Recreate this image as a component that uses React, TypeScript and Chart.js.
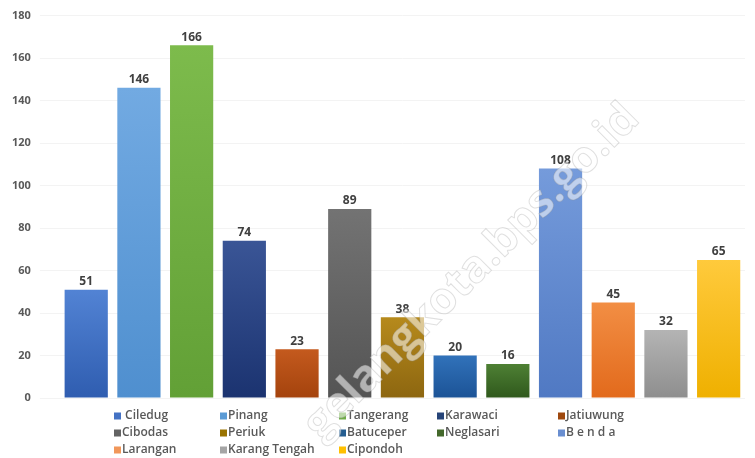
import React, { useEffect, useRef } from "react";
import { Chart, registerables } from "chart.js";

Chart.register(...registerables);

const categories = [
  " Ciledug", "Pinang", "Tangerang", "Karawaci", "Jatiuwung",
  "Cibodas", "Periuk", "Batuceper", "Neglasari", "B e n d a",
  "Larangan", "Karang Tengah", "Cipondoh",
];
const values = [51, 146, 166, 74, 23, 89, 38, 20, 16, 108, 45, 32, 65];
const topColors = [
  "#5283d4", "#72aae2", "#7dbb4c", "#3a5596", "#c45a1e", "#737373", "#b68a1c",
  "#3172ba", "#4e8034", "#759bdb", "#f28e44", "#b4b4b4", "#ffca3c",
];
const bottomColors = [
  "#2f5db0", "#4f8fcf", "#62a036", "#1b3370", "#a4430d", "#545454", "#8d6610",
  "#1c5396", "#2f581c", "#5079c3", "#e26a1c", "#8e8e8e", "#efb000",
];
const legendColors = [
  "#4472c4", "#5b9bd5", "#70ad47", "#264478", "#9e480e", "#636363", "#997300",
  "#255e91", "#43682b", "#698ed0", "#f1975a", "#a5a5a5", "#ffc000",
];
const yTicks = [0, 20, 40, 60, 80, 100, 120, 140, 160, 180];
const watermark = "gelangkota.bps.go.id";

const FONT = "'Open Sans', 'DejaVu Sans', sans-serif";

export default function App() {
  const ref = useRef<HTMLCanvasElement | null>(null);

  useEffect(() => {
    if (!ref.current) return;

    const labelPlugin = {
      id: "valueLabels",
      afterDatasetsDraw(chart: any) {
        const ctx = chart.ctx;
        const meta = chart.getDatasetMeta(0);
        ctx.save();
        ctx.font = `bold 12px ${FONT}`;
        ctx.fillStyle = "#404040";
        ctx.textAlign = "center";
        ctx.textBaseline = "bottom";
        meta.data.forEach((el: any, i: number) => {
          ctx.fillText(String(values[i]), el.x, el.y - 2);
        });
        ctx.restore();
      },
    };

    const legendPlugin = {
      id: "gridLegend",
      afterDraw(chart: any) {
        const ctx = chart.ctx;
        const colX = [122, 228, 347, 445, 566];
        const rowY = [416, 433, 450];
        ctx.save();
        ctx.font = `600 12px ${FONT}`;
        ctx.textBaseline = "middle";
        ctx.textAlign = "left";
        categories.forEach((name, i) => {
          const c = i % 5;
          const r = Math.floor(i / 5);
          const x = colX[c];
          const y = rowY[r];
          ctx.fillStyle = legendColors[i];
          ctx.fillRect(x - 8, y - 3.5, 7, 7);
          ctx.fillStyle = "#595959";
          ctx.fillText(name, x, y);
        });
        ctx.restore();
      },
    };

    const watermarkPlugin = {
      id: "watermark",
      afterDraw(chart: any) {
        const ctx = chart.ctx;
        ctx.save();
        ctx.translate(472, 272);
        ctx.rotate(-Math.PI / 4);
        ctx.font = `bold 44px ${FONT}`;
        ctx.textAlign = "center";
        ctx.textBaseline = "middle";
        ctx.lineWidth = 1;
        ctx.strokeStyle = "rgba(150,150,150,0.3)";
        ctx.fillStyle = "rgba(255,255,255,0.55)";
        ctx.fillText(watermark, 0, 0);
        ctx.strokeText(watermark, 0, 0);
        ctx.restore();
      },
    };

    const chart = new Chart(ref.current, {
      type: "bar",
      data: {
        labels: categories,
        datasets: [
          {
            label: "Jumlah",
            data: values,
            backgroundColor: (c: any) => {
              const ch = c.chart;
              const i = c.dataIndex;
              if (!ch.chartArea || !ch.scales.y || i === undefined) return legendColors[i ?? 0];
              const yTop = ch.scales.y.getPixelForValue(values[i]);
              const yBot = ch.scales.y.getPixelForValue(0);
              const g = ch.ctx.createLinearGradient(0, yTop, 0, yBot);
              g.addColorStop(0, topColors[i]);
              g.addColorStop(1, bottomColors[i]);
              return g;
            },
            borderWidth: 0,
            categoryPercentage: 0.82,
            barPercentage: 1,
          },
        ],
      },
      options: {
        responsive: false,
        animation: false,
        maintainAspectRatio: false,
        layout: { padding: { top: 10, right: 10, bottom: 60, left: 3 } },
        plugins: {
          legend: { display: false },
          tooltip: { enabled: false },
        },
        scales: {
          x: { display: false },
          y: {
            min: 0,
            max: 180,
            afterBuildTicks: (axis: any) => {
              axis.ticks = yTicks.map((v) => ({ value: v }));
            },
            ticks: {
              color: "#595959",
              font: { family: FONT, size: 11, weight: "bold" },
              padding: 9,
            },
            grid: {
              color: "#f3f3f3",
              tickLength: 20,
              tickColor: "#f3f3f3",
            },
            border: { display: false },
          },
        },
      },
      plugins: [labelPlugin, legendPlugin, watermarkPlugin],
    });

    return () => chart.destroy();
  }, []);

  return (
    <div style={{ position: "fixed", left: 0, top: 0, width: 755, height: 458, background: "#fff" }}>
      <canvas ref={ref} width={755} height={458} style={{ width: 755, height: 458 }} />
    </div>
  );
}
